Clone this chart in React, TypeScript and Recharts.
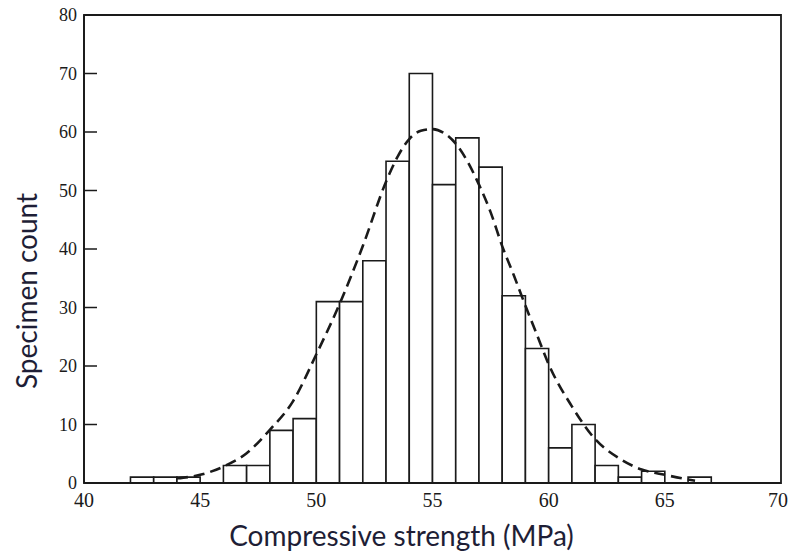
import React from 'react';
import { ComposedChart, Bar, Line, XAxis, YAxis, ReferenceArea, Label } from 'recharts';

// histogram bins (lower edge, MPa) and specimen counts
const binStarts = [42, 43, 44, 45, 46, 47, 48, 49, 50, 51, 52, 53, 54, 55, 56, 57, 58, 59, 60, 61, 62, 63, 64, 65, 66];
const counts = [1, 1, 1, 0, 3, 3, 9, 11, 31, 31, 38, 55, 70, 51, 59, 54, 32, 23, 6, 10, 3, 1, 2, 0, 1];

// dashed fitted curve
const fitX = [44, 45, 46, 47, 48, 49, 50, 51, 52, 53, 53.5, 54, 54.5, 55, 55.5, 56, 56.5, 57, 57.5, 58, 58.5, 59, 59.5, 60, 61, 62, 63, 64, 65, 66, 66.3];
const fitY = [0.8, 1.4, 2.8, 5.1, 9.1, 14, 22, 30.6, 40.5, 51.5, 55.8, 58.8, 60.2, 60.5, 59.8, 58, 55, 51, 46.3, 40.5, 35.5, 30.3, 25.3, 20.3, 13.1, 7.5, 4.3, 2.3, 1.4, 0.6, 0.4];

const xTicks = [40, 45, 50, 55, 60, 65, 70];
const yTicks = [0, 10, 20, 30, 40, 50, 60, 70, 80];

const X_MIN = 40;
const X_MAX = 70;
const BIN = 1;

const W = 788;
const H = 558;
const margin = { top: 15, right: 7, bottom: 0, left: 0 };
const Y_AXIS_W = 84;
const X_AXIS_H = 75;
const PLOT_W = W - margin.left - margin.right - Y_AXIS_W;
// a hair under the full bin so recharts doesn't shrink it to 90%
const BAR_SIZE = (PLOT_W / (X_MAX - X_MIN)) * BIN - 0.02;

const INK = '#1a1a1a';
const TITLE = '#1e1e36';
const SERIF = '"Liberation Serif", "DejaVu Serif", serif';
const SANS = 'Lato, "Noto Sans", sans-serif';

const histData = binStarts.map((b, i) => ({ x: b + BIN / 2, count: counts[i] }));
const fitData = fitX.map((x, i) => ({ x, y: fitY[i] }));

const YTick = (props: any) => {
  const { x, y, payload } = props;
  const axisX = x + 7;
  return (
    <g>
      {payload.value > 0 && payload.value < 80 && (
        <line x1={axisX} x2={axisX + 13} y1={y} y2={y} stroke={INK} strokeWidth={1.5} />
      )}
      <text x={x} y={y} dy="0.35em" textAnchor="end" fill={INK} fontSize={18} fontFamily={SERIF}>
        {payload.value}
      </text>
    </g>
  );
};

const XTitle = (props: any) => {
  const vb = props.viewBox;
  return (
    <text x={vb.x + vb.width / 2 - 31} y={vb.y + 63} textAnchor="middle" fill={TITLE} fontSize={28} fontFamily={SANS}>
      Compressive strength (MPa)
    </text>
  );
};

const YTitle = () => {
  const cx = 26;
  const cy = 291;
  return (
    <text
      x={cx}
      y={cy}
      transform={`rotate(-90, ${cx}, ${cy})`}
      textAnchor="middle"
      dominantBaseline="central"
      fill={TITLE}
      fontSize={28}
      fontFamily={SANS}
    >
      Specimen count
    </text>
  );
};

export default function App() {
  return (
    <div style={{ position: 'absolute', left: 0, top: 0, width: W, height: H, background: '#fff' }}>
      <ComposedChart width={W} height={H} data={histData} margin={margin} barGap={0} barCategoryGap={0}>
        <XAxis
          dataKey="x"
          type="number"
          domain={[X_MIN, X_MAX]}
          ticks={xTicks}
          height={X_AXIS_H}
          tickSize={0}
          tickMargin={10}
          tickLine={false}
          axisLine={{ stroke: INK, strokeWidth: 1.8 }}
          tick={{ fill: INK, fontSize: 20, fontFamily: SERIF }}
        >
          <Label content={<XTitle />} />
        </XAxis>
        <XAxis xAxisId="fit" dataKey="x" type="number" domain={[X_MIN, X_MAX]} hide />
        <YAxis
          type="number"
          domain={[0, 80]}
          ticks={yTicks}
          width={Y_AXIS_W}
          tickSize={0}
          tickMargin={7}
          tickLine={false}
          axisLine={{ stroke: INK, strokeWidth: 1.8 }}
          tick={<YTick />}
        >
          <Label content={<YTitle />} />
        </YAxis>
        <ReferenceArea x1={X_MIN} x2={X_MAX} y1={0} y2={80} fill="none" stroke={INK} strokeWidth={1.8} />
        <Bar dataKey="count" fill="#fff" stroke={INK} strokeWidth={1.6} barSize={BAR_SIZE} isAnimationActive={false} />
        <Line
          xAxisId="fit"
          data={fitData}
          dataKey="y"
          type="monotone"
          stroke={INK}
          strokeWidth={2.6}
          strokeDasharray="11 6"
          dot={false}
          activeDot={false}
          isAnimationActive={false}
        />
      </ComposedChart>
    </div>
  );
}
